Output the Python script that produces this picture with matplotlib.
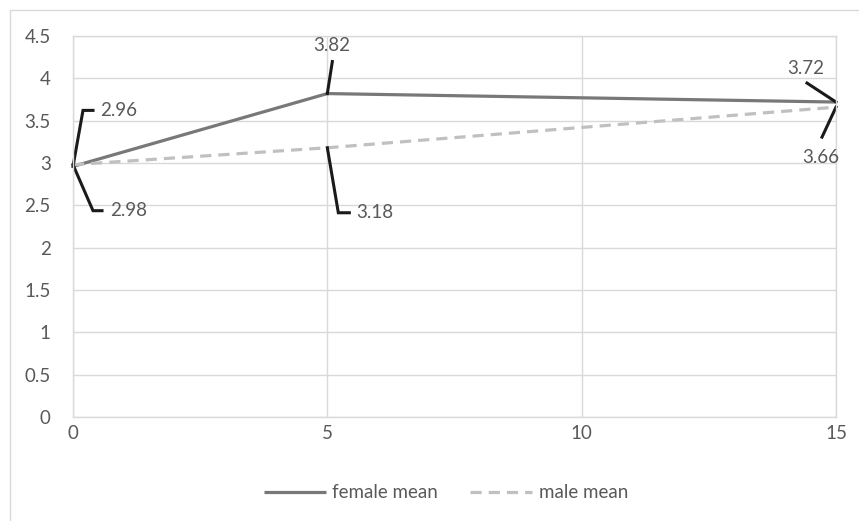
import matplotlib
matplotlib.use('Agg')
import matplotlib.pyplot as plt
import numpy as np
from matplotlib.patches import Rectangle

x = [0, 5, 15]
female = [2.96, 3.82, 3.72]
male = [2.98, 3.18, 3.66]
labels_f = ['2.96', '3.82', '3.72']
labels_m = ['2.98', '3.18', '3.66']

plt.rcParams['font.family'] = ['Lato', 'DejaVu Sans']
txt = '#595959'
grid = '#d9d9d9'
fs = 13.5

fig = plt.figure(figsize=(8.59, 5.21), dpi=100)
W, H = 859, 521
ax = fig.add_axes([73/W, (H-417)/H, 763/W, 381/H])

ax.plot(x, female, color='#787878', lw=2.3, label='female mean', solid_capstyle='butt')
ax.plot(x, male, color='#c0c0c0', lw=2.3, dashes=(3.5, 2.2), label='male mean')

ax.set_xlim(0, 15)
ax.set_ylim(0, 4.5)
ax.set_xticks([0, 5, 10, 15])
ax.set_yticks(np.arange(0, 4.51, 0.5))
ax.set_yticklabels(['0', '0.5', '1', '1.5', '2', '2.5', '3', '3.5', '4', '4.5'])
ax.grid(True, color=grid, lw=1)
ax.set_axisbelow(True)
for s in ax.spines.values():
    s.set_color(grid)
    s.set_linewidth(1)
ax.tick_params(length=0, colors=txt, labelsize=fs)
ax.tick_params(axis='x', pad=6)
ax.tick_params(axis='y', pad=16)

# leader lines in pixel offsets from each point
lead_f = [[(10, 56), (20, 56)], [(5, 32)], [(-29, 19)]]
text_f = [((27, 56), 'left'), ((4, 48), 'center'), ((-30, 34), 'center')]
lead_m = [[(20, -46), (29, -46)], [(11, -65), (22, -65)], [(-14, -30)]]
text_m = [((37, -46), 'left'), ((29, -65), 'left'), ((-15, -50), 'center')]

fig.canvas.draw()
def callout(xv, yv, pts, tpos, lab):
    px, py = ax.transData.transform((xv, yv))
    xs = [px] + [px + a for a, b in pts]
    ys = [py] + [py + b for a, b in pts]
    ax.plot(xs, ys, color='#1a1a1a', lw=2.2, transform=None, clip_on=False,
            solid_joinstyle='miter')
    (dx, dy), ha = tpos
    ax.text(px + dx, py + dy, lab, transform=None, ha=ha, va='center',
            color=txt, fontsize=fs)

for i in range(3):
    callout(x[i], female[i], lead_f[i], text_f[i], labels_f[i])
    callout(x[i], male[i], lead_m[i], text_m[i], labels_m[i])

fig.patches.append(Rectangle((10/W, -0.1), 1.2, (H-10)/H + 0.1, transform=fig.transFigure,
                             fill=False, ec=grid, lw=1))

fig.legend(loc='center', bbox_to_anchor=(446/W, 1 - 493/H), ncol=2, frameon=False,
           handlelength=3.3, columnspacing=1.7, handletextpad=0.35, labelcolor=txt,
           fontsize=fs)

fig.savefig('out.png', dpi=100)
